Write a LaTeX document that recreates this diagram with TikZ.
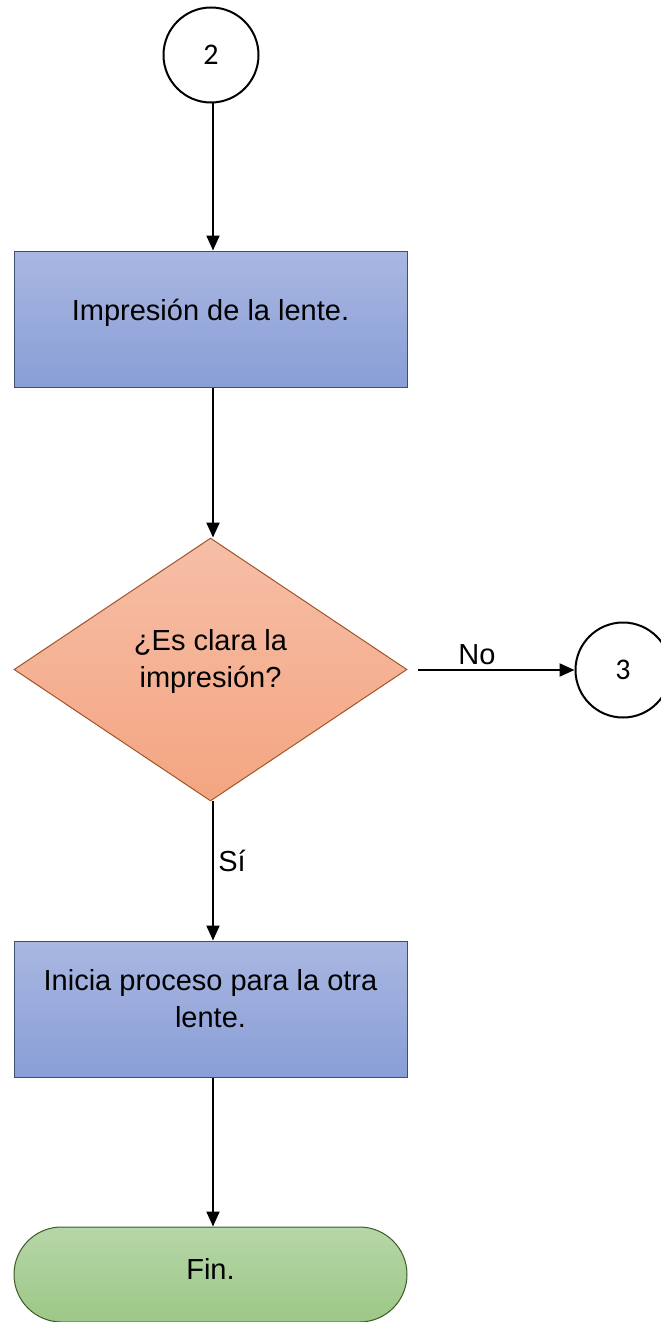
\documentclass[tikz,border=0pt]{standalone}
\usepackage{fontspec}
\setmainfont{Liberation Sans}
\newfontfamily\digitfont{Carlito}
\usetikzlibrary{arrows.meta,shapes.geometric,shapes.misc}
\definecolor{boxtop}{RGB}{169,183,225}
\definecolor{boxbot}{RGB}{137,158,215}
\definecolor{boxline}{RGB}{60,80,115}
\definecolor{diatop}{RGB}{246,190,167}
\definecolor{diabot}{RGB}{244,165,129}
\definecolor{dialine}{RGB}{160,85,40}
\definecolor{endtop}{RGB}{182,214,167}
\definecolor{endbot}{RGB}{156,200,135}
\definecolor{endline}{RGB}{60,90,40}
\tikzset{
  procbox/.style={rectangle, draw=boxline, line width=1pt, top color=boxtop, bottom color=boxbot,
    minimum width=393pt, minimum height=136pt, inner sep=0pt},
  decbox/.style={diamond, draw=dialine, line width=1pt, top color=diatop, bottom color=diabot,
    minimum width=393pt, minimum height=263pt, inner sep=0pt},
  endbox/.style={rounded rectangle, draw=endline, line width=1pt, top color=endtop, bottom color=endbot,
    minimum width=393pt, minimum height=95pt, inner sep=0pt},
  conn/.style={circle, draw=black, line width=2pt, minimum size=95pt, inner sep=0pt},
  txt/.style={font=\fontsize{29}{37}\selectfont, align=center, inner sep=0pt, anchor=base},
  dtxt/.style={font=\digitfont\fontsize{30}{34}\selectfont, inner sep=0pt},
  flow/.style={line width=2pt, -{Triangle[length=15pt,width=13pt]}},
}
\begin{document}
\begin{tikzpicture}[x=1pt,y=-1pt]
\useasboundingbox (0,0) rectangle (661,1322);
\node[conn] (c2) at (211,55) {};
\node[dtxt] (t2) at (211,55) {2};
\node[procbox] (p1) at (210.5,319) {};
\node[txt] (t1) at (210.5,320) {Impresión de la lente.};
\node[decbox] (d1) at (210.5,669.5) {};
\node[txt] (td1) at (210.5,687) {¿Es clara la\\impresión?};
\node[conn] (c3) at (623,670) {};
\node[dtxt] (t3) at (623,670) {3};
\node[procbox] (p2) at (210.5,1009) {};
\node[txt] (tp2) at (210.5,1027) {Inicia proceso para la otra\\lente.};
\node[endbox] (e1) at (210.5,1274.5) {};
\node[txt] (te) at (210.5,1279) {Fin.};
\coordinate (topx) at (213,103);
\coordinate (nostart) at (418,670);
\coordinate (sistart) at (213,801);
\draw[flow] (topx) -- (topx |- p1.north);
\draw[flow] (p1.south -| topx) -- (topx |- d1.north);
\draw[flow] (nostart) -- (c3.west);
\draw[flow] (sistart) -- (sistart |- p2.north);
\draw[flow] (p2.south -| topx) -- (topx |- e1.north);
\node[txt] (lno) at (477,664) {No};
\node[txt] (lsi) at (232,871) {Sí};
\end{tikzpicture}
\end{document}
